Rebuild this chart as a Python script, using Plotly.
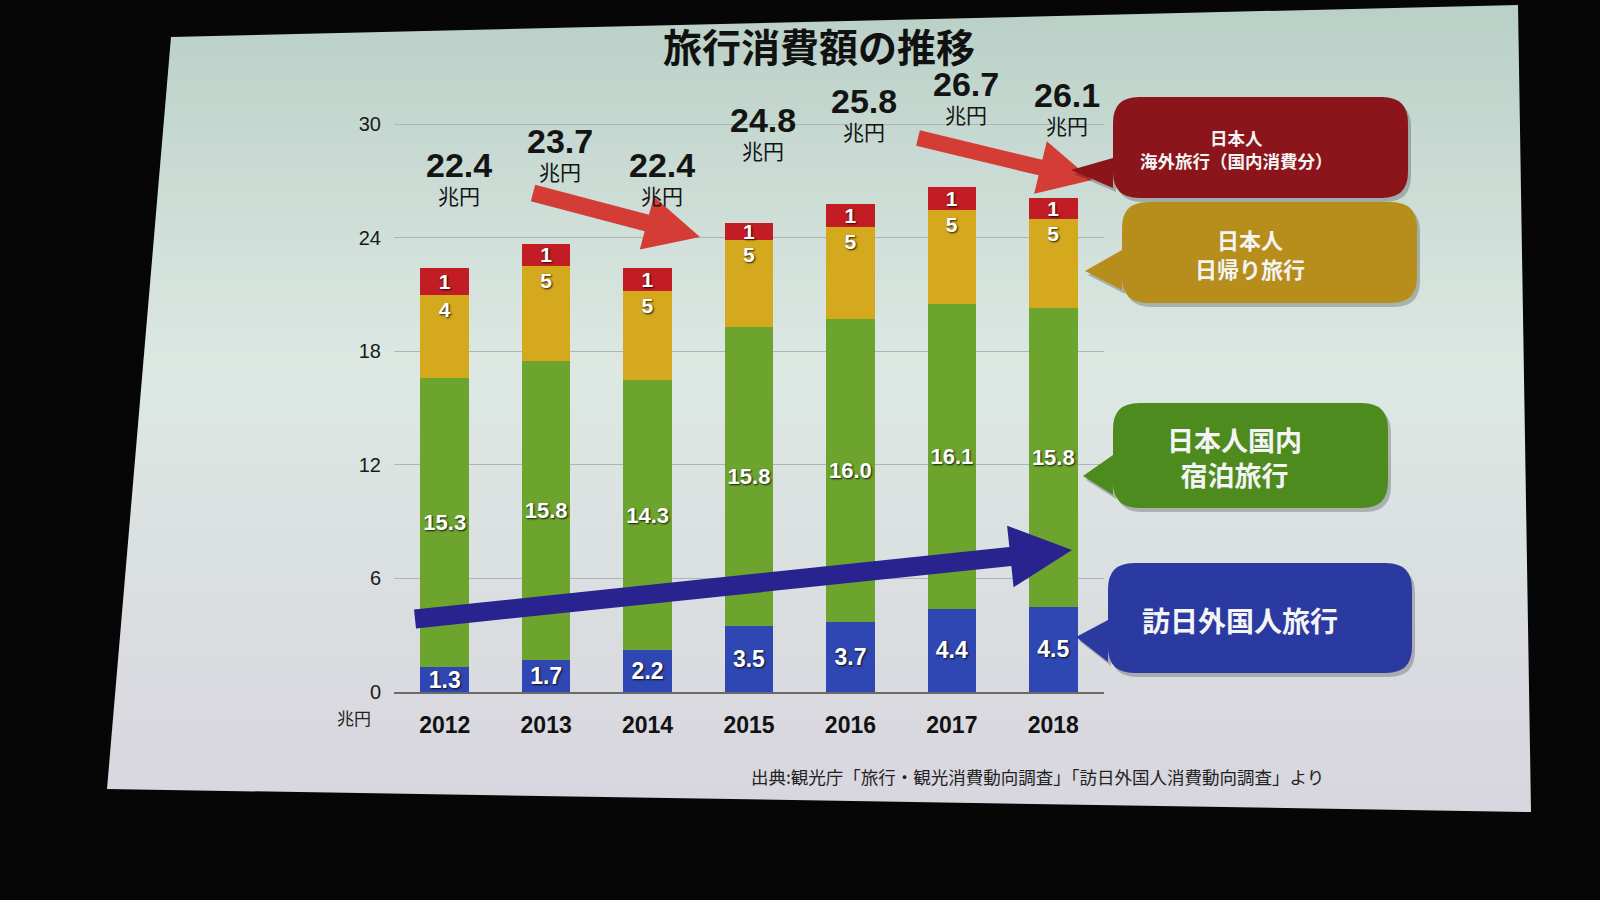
import base64
import math
import plotly.graph_objects as go

# ---------------- data ----------------
years = ["2012", "2013", "2014", "2015", "2016", "2017", "2018"]
inbound = [1.3, 1.7, 2.2, 3.5, 3.7, 4.4, 4.5]                 # 訪日外国人旅行
domestic_overnight = [15.3, 15.8, 14.3, 15.8, 16.0, 16.1, 15.8]  # 日本人国内宿泊旅行
domestic_day = [4.4, 5.0, 4.7, 4.6, 4.9, 5.0, 4.7]            # 日本人日帰り旅行
outbound_domestic = [1.4, 1.2, 1.2, 0.9, 1.2, 1.2, 1.1]       # 日本人海外旅行（国内消費分）
totals = [22.4, 23.7, 22.4, 24.8, 25.8, 26.7, 26.1]
y_ticks = [0, 6, 12, 18, 24, 30]

# ---------------- layout geometry ----------------
W, H = 1600, 900
L, T = 394, 62
PW, PH = 710, 630
R = W - L - PW
B = H - T - PH

def px(x):
    return (x - L) / PW

def py(y):
    return (T + PH - y) / PH

FONT_NUM = "Liberation Sans, Arial, Noto Sans CJK JP, sans-serif"
FONT_JP = "Noto Sans CJK JP, Liberation Sans, sans-serif"
SHADOW = "1px 1px 2px rgba(0,0,0,0.85)"

fig = go.Figure()

def add_bar(vals, name, color, fmt, size, anchor):
    fig.add_trace(go.Bar(
        x=years, y=vals, name=name,
        marker=dict(color=color, line=dict(width=0)),
        texttemplate=fmt, textposition="inside", insidetextanchor=anchor,
        textangle=0, constraintext="none",
        textfont=dict(family=FONT_NUM, size=size, color="white", weight="bold", shadow=SHADOW),
        hoverinfo="skip",
    ))

add_bar(inbound, "訪日外国人旅行", "#2f47b2", "%{y:.1f}", 23, "middle")
add_bar(domestic_overnight, "日本人国内宿泊旅行", "#6da42d", "%{y:.1f}", 22, "middle")
add_bar(domestic_day, "日本人日帰り旅行", "#d4a91e", "%{y:.0f}", 21, "end")
add_bar(outbound_domestic, "日本人海外旅行（国内消費分）", "#c21d24", "%{y:.0f}", 21, "middle")

annotations = []
# totals above the bars (x given as the category's serial number)
for i, t in enumerate(totals):
    annotations.append(dict(
        x=i, y=t, xref="x", yref="y",
        text=f"<span style='font-size:34px;font-family:Liberation Sans, Arial, sans-serif'><b>{t:.1f}</b></span><br>兆円",
        showarrow=False, xanchor="center", yanchor="bottom", yshift=56, xshift=14, align="center",
        font=dict(family=FONT_JP, size=21, color="#141414")))

def paper_text(x, y, text, size, color, family=FONT_JP):
    annotations.append(dict(x=px(x), y=py(y), xref="paper", yref="paper", text=text,
                            showarrow=False, xanchor="center", yanchor="middle", align="center",
                            font=dict(family=family, size=size, color=color)))

paper_text(819, 45, "<b>旅行消費額の推移</b>", 39, "#111111")
paper_text(354, 717, "兆円", 17, "#222222")
paper_text(1037, 776, "出典:観光庁「旅行・観光消費動向調査」「訪日外国人消費動向調査」より", 17.5, "#222222")

shapes = []

def arrow(tail, tip, shaft, head_w, head_len, color):
    dx, dy = tip[0] - tail[0], tip[1] - tail[1]
    n = math.hypot(dx, dy)
    ux, uy = dx / n, dy / n
    nx, ny = -uy, ux
    neck = (tip[0] - ux * head_len, tip[1] - uy * head_len)
    pts = [
        (tail[0] + nx * shaft / 2, tail[1] + ny * shaft / 2),
        (neck[0] + nx * shaft / 2, neck[1] + ny * shaft / 2),
        (neck[0] + nx * head_w / 2, neck[1] + ny * head_w / 2),
        tip,
        (neck[0] - nx * head_w / 2, neck[1] - ny * head_w / 2),
        (neck[0] - nx * shaft / 2, neck[1] - ny * shaft / 2),
        (tail[0] - nx * shaft / 2, tail[1] - ny * shaft / 2),
    ]
    p = "M " + " L ".join(f"{px(a):.5f},{py(b):.5f}" for a, b in pts) + " Z"
    shapes.append(dict(type="path", xref="paper", yref="paper", path=p,
                       fillcolor=color, line=dict(width=0), layer="above"))

arrow((533, 193), (700, 237), 17, 55, 55, "#d43c36")
arrow((918, 138), (1092, 180), 16, 54, 53, "#d43c36")
arrow((415, 619), (1072, 550), 19, 62, 62, "#29238f")

def bubble(x0, y0, x1, y1, pa, pb, tip, color, r=26):
    def P(a, b):
        return f"{px(a):.5f},{py(b):.5f}"
    p = (f"M {P(x0 + r, y0)} L {P(x1 - r, y0)} Q {P(x1, y0)} {P(x1, y0 + r)} "
         f"L {P(x1, y1 - r)} Q {P(x1, y1)} {P(x1 - r, y1)} L {P(x0 + r, y1)} "
         f"Q {P(x0, y1)} {P(x0, y1 - r)} L {P(x0, pb)} L {P(tip[0], tip[1])} L {P(x0, pa)} "
         f"L {P(x0, y0 + r)} Q {P(x0, y0)} {P(x0 + r, y0)} Z")
    shapes.append(dict(type="path", xref="paper", yref="paper", path=p,
                       fillcolor=color, line=dict(width=0), layer="above"))

callouts = [
    # box x0, y0, x1, y1, pointer base top, bottom, tip, colour
    (1113, 97, 1408, 198, 158, 188, (1071, 170), "#8c141b"),
    (1122, 202, 1417, 303, 250, 290, (1085, 271), "#b78d1b"),
    (1113, 403, 1388, 508, 455, 495, (1083, 476), "#4e8b1f"),
    (1108, 563, 1412, 673, 620, 662, (1076, 637), "#2b3aa0"),
]
for x0, y0, x1, y1, pa, pb, tip, col in callouts:
    bubble(x0 + 3, y0 + 4, x1 + 3, y1 + 4, pa + 4, pb + 4, (tip[0] + 3, tip[1] + 4), "rgba(0,0,0,0.22)")
    bubble(x0, y0, x1, y1, pa, pb, tip, col)

paper_text(1236, 149, "<b>日本人<br>海外旅行（国内消費分）</b>", 17.5, "#f4f4f4")
paper_text(1250, 253, "<b>日本人<br>日帰り旅行</b>", 22, "#f4f4f4")
paper_text(1234, 457, "<b>日本人国内<br>宿泊旅行</b>", 27, "#f4f4f4")
paper_text(1240, 620, "<b>訪日外国人旅行</b>", 28, "#f4f4f4")

# background: dark room + projected slide
svg = f'''<svg xmlns="http://www.w3.org/2000/svg" width="{W}" height="{H}" viewBox="0 0 {W} {H}" preserveAspectRatio="none">
<defs><linearGradient id="g" x1="0" y1="0" x2="0" y2="1">
<stop offset="0" stop-color="#b9d0c7"/><stop offset="0.45" stop-color="#dde8e3"/><stop offset="1" stop-color="#d8d5de"/>
</linearGradient></defs>
<rect width="{W}" height="{H}" fill="#060607"/>
<polygon points="171,37 1518,5 1531,812 107,789" fill="url(#g)"/>
</svg>'''
src = "data:image/svg+xml;base64," + base64.b64encode(svg.encode("utf-8")).decode("ascii")

fig.update_layout(
    width=W, height=H,
    margin=dict(l=L, r=R, t=T, b=B, pad=0),
    barmode="stack", bargap=0.52,
    showlegend=False,
    paper_bgcolor="#060607", plot_bgcolor="rgba(0,0,0,0)",
    images=[dict(source=src, xref="paper", yref="paper", x=-L / PW, y=1 + T / PH,
                 sizex=W / PW, sizey=H / PH, xanchor="left", yanchor="top",
                 sizing="stretch", layer="below")],
    shapes=shapes,
    annotations=annotations,
    xaxis=dict(type="category", range=[-0.5, len(years) - 0.5], autorange=False,
               showgrid=False, showline=True, linecolor="#6a6a6a", linewidth=1.5,
               ticks="", ticklabelstandoff=12,
               tickfont=dict(family=FONT_NUM, size=23, color="#111111", weight="bold")),
    yaxis=dict(range=[0, 33.3], autorange=False, tickvals=y_ticks, showgrid=True, gridcolor="#aeb6b3", gridwidth=1,
               zeroline=False, showline=False, ticks="", ticklabelstandoff=12,
               tickfont=dict(family=FONT_NUM, size=20, color="#1a1a1a")),
)

fig.write_html(
    "out.html",
    config=dict(displayModeBar=False),
    post_script="document.body.style.margin='0';document.body.style.background='#060607';document.body.style.overflow='hidden';",
)
